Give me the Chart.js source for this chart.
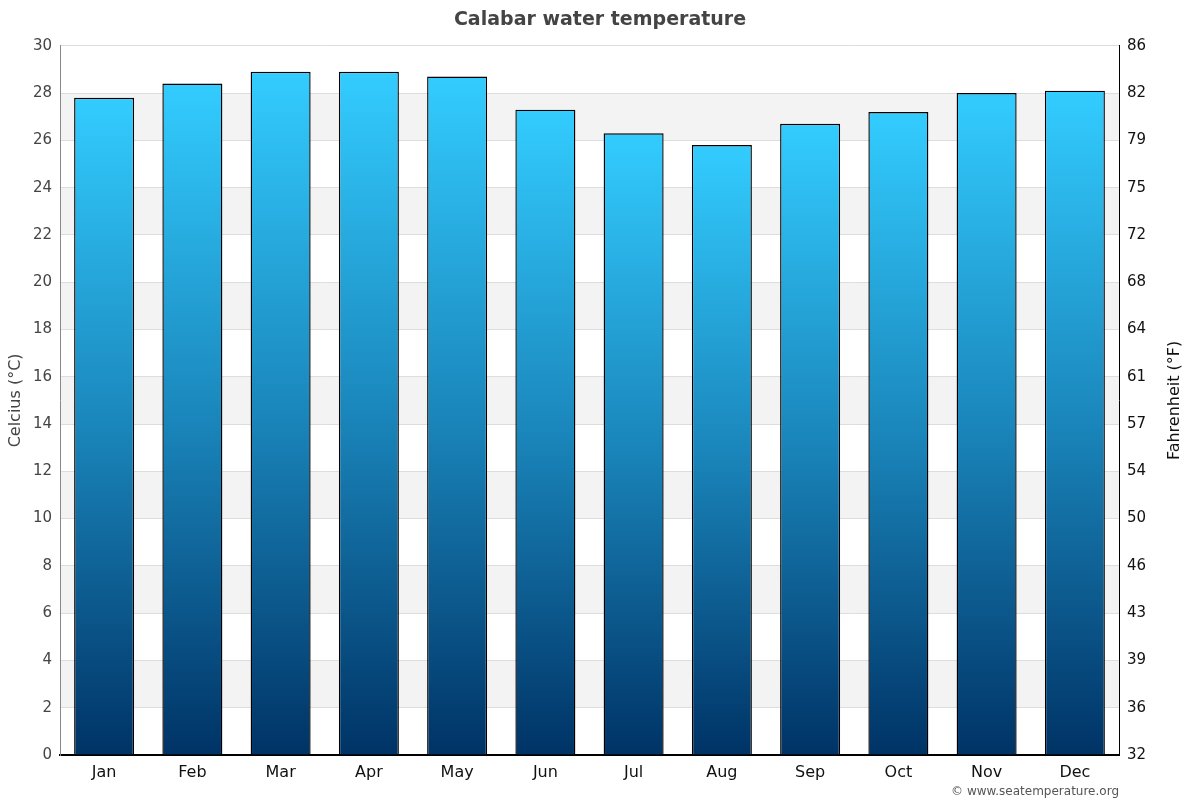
<!DOCTYPE html>
<html>
<head>
<meta charset="utf-8">
<script src="https://cdn.jsdelivr.net/npm/chart.js@4/dist/chart.umd.min.js"></script>
<style>
  body { margin: 0; background: #fff; }
  canvas { display: block; }
</style>
</head>
<body>
<canvas id="chart" width="1200" height="800"></canvas>
<script>
const months = ['Jan', 'Feb', 'Mar', 'Apr', 'May', 'Jun', 'Jul', 'Aug', 'Sep', 'Oct', 'Nov', 'Dec'];
const waterTemp = [27.8, 28.4, 28.9, 28.9, 28.7, 27.3, 26.3, 25.8, 26.7, 27.2, 28.0, 28.1];
const celciusTicks = [0, 2, 4, 6, 8, 10, 12, 14, 16, 18, 20, 22, 24, 26, 28, 30];
const fahrenheitTicks = [32, 36, 39, 43, 46, 50, 54, 57, 61, 64, 68, 72, 75, 79, 82, 86];

// grey bands behind every other 2 degree step
const bandsPlugin = {
  id: 'bands',
  beforeDraw(chart) {
    const ctx = chart.ctx;
    const area = chart.chartArea;
    const y = chart.scales.y;
    ctx.save();
    ctx.fillStyle = '#f3f3f3';
    for (let v = 2; v < 30; v += 4) {
      const top = y.getPixelForValue(v + 2);
      const bottom = y.getPixelForValue(v);
      ctx.fillRect(area.left, top, area.right - area.left, bottom - top);
    }
    ctx.restore();
  }
};

// axis titles (both read bottom to top) and the credit line
const textPlugin = {
  id: 'texts',
  afterDraw(chart) {
    const ctx = chart.ctx;
    const area = chart.chartArea;
    const midY = (area.top + area.bottom) / 2;
    ctx.save();
    ctx.font = '16px "DejaVu Sans"';
    ctx.textAlign = 'center';
    ctx.textBaseline = 'middle';

    ctx.save();
    ctx.translate(16, midY);
    ctx.rotate(-Math.PI / 2);
    ctx.fillStyle = '#444';
    ctx.fillText('Celcius (°C)', 0, 0);
    ctx.restore();

    ctx.save();
    ctx.translate(1175, midY);
    ctx.rotate(-Math.PI / 2);
    ctx.fillStyle = '#111';
    ctx.fillText('Fahrenheit (°F)', 0, 0);
    ctx.restore();

    ctx.font = '12px "DejaVu Sans"';
    ctx.fillStyle = '#555';
    ctx.textAlign = 'right';
    ctx.fillText('© www.seatemperature.org', area.right, 792);
    ctx.restore();
  }
};

function barGradient(context) {
  const chart = context.chart;
  if (!chart.chartArea || context.raw === undefined) return '#2299cc';
  const y = chart.scales.y;
  const top = y.getPixelForValue(context.raw);
  const bottom = y.getPixelForValue(0);
  const g = chart.ctx.createLinearGradient(0, top, 0, bottom);
  g.addColorStop(0, '#33ccff');
  g.addColorStop(0.5, '#1a86bb');
  g.addColorStop(1, '#003366');
  return g;
}

new Chart(document.getElementById('chart').getContext('2d'), {
  type: 'bar',
  data: {
    labels: months,
    datasets: [{
      label: 'Water temperature',
      data: waterTemp,
      backgroundColor: barGradient,
      borderColor: '#000',
      borderWidth: 1.4,
      borderSkipped: 'bottom',
      barPercentage: 0.68,
      categoryPercentage: 1
    }]
  },
  options: {
    responsive: false,
    animation: false,
    devicePixelRatio: 1,
    layout: { padding: 0 },
    plugins: {
      legend: { display: false },
      tooltip: { enabled: false },
      title: {
        display: true,
        text: 'Calabar water temperature',
        color: '#444',
        font: { family: 'DejaVu Sans', size: 19, weight: 'bold' },
        padding: { top: 9, bottom: 14 }
      }
    },
    scales: {
      x: {
        grid: { display: false, drawTicks: false },
        border: { color: '#000', width: 2 },
        ticks: {
          color: '#111',
          font: { family: 'DejaVu Sans', size: 16 },
          padding: 8
        },
        afterFit(scale) { scale.height = 45; }
      },
      y: {
        position: 'left',
        min: 0,
        max: 30,
        afterBuildTicks(scale) {
          scale.ticks = celciusTicks.map(v => ({ value: v }));
        },
        grid: { color: '#dddddd', drawTicks: false },
        border: { color: '#888', width: 1 },
        ticks: {
          color: '#444',
          font: { family: 'DejaVu Sans', size: 15 },
          padding: 8
        },
        afterFit(scale) { scale.width = 60; }
      },
      y2: {
        display: true,
        position: 'right',
        min: 0,
        max: 30,
        afterBuildTicks(scale) {
          scale.ticks = celciusTicks.map(v => ({ value: v }));
        },
        grid: { display: false, drawTicks: false },
        border: { color: '#000', width: 1 },
        ticks: {
          color: '#111',
          font: { family: 'DejaVu Sans', size: 15 },
          padding: 8,
          callback: function (value, index) {
            return fahrenheitTicks[index];
          }
        },
        afterFit(scale) { scale.width = 81; }
      }
    }
  },
  plugins: [bandsPlugin, textPlugin]
});
</script>
</body>
</html>
